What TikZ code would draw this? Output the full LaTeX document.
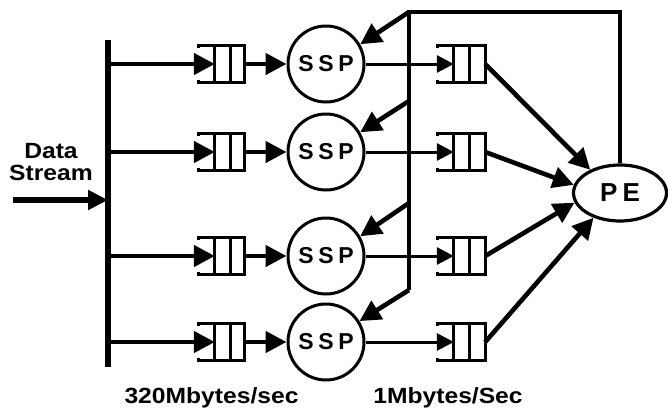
\documentclass[tikz,border=0pt]{standalone}
\usepackage{fontspec}
\setmainfont{Liberation Sans}
\newfontfamily\labfont{Liberation Sans}[FakeStretch=1.12]
\newfontfamily\cfont{Liberation Sans}[LetterSpace=20]
\usetikzlibrary{arrows.meta,shapes.geometric,calc}
\begin{document}
\begin{tikzpicture}[x=1pt,y=-1pt,
  big/.style={line width=4.6pt,-{Triangle[length=21pt,width=21pt]}},
  thinarr/.style={line width=3pt,-{Triangle[length=17pt,width=17pt]}},
  fbline/.style={line width=3.2pt},
  busline/.style={line width=5.5pt},
  queue/.style={minimum width=45pt,minimum height=37pt,inner sep=0pt},
  qline/.style={line width=2.8pt},
  proc/.style={circle,draw,line width=3pt,minimum size=76pt,inner sep=0pt,
    font=\cfont\bfseries\fontsize{23}{24}\selectfont},
  pe/.style={ellipse,draw,line width=3.2pt,minimum width=93pt,minimum height=56pt,inner sep=0pt,
    font=\cfont\bfseries\fontsize{26}{28}\selectfont},
  lab/.style={font=\labfont\bfseries\fontsize{22}{22}\selectfont,inner sep=0pt}
]
\useasboundingbox (0,0) rectangle (668,410);

% bus
\coordinate (bt) at (108,40);
\coordinate (bb) at (108,367);
\draw[busline] (bt) -- (bb);

% data stream input
\node[lab,align=center,anchor=base] (ds) at (51,180) {Data\\Stream};
\coordinate (din) at (13,200);
\coordinate (bin) at (108,200);
\draw[line width=5.5pt,-{Triangle[length=20pt,width=19pt]}] (din) -- (bin);

% rows
\foreach \i/\y in {1/64,2/152,3/256,4/342}{
  \coordinate (b\i) at (108,\y);
  \node[queue] (ql\i) at (221.5,\y) {};
  \node[proc] (s\i) at (326,\y) {SSP};
  \node[queue,minimum width=47pt] (qr\i) at (461.5,\y) {};
}

\node[pe] (pe) at (620,193) {PE};

% queue outlines
\foreach \q in {ql1,ql2,ql3,ql4,qr1,qr2,qr3,qr4}{
  \draw[qline] ($(\q.north west)+(0,3)$) -- (\q.north west) -- (\q.north east)
     -- (\q.south east) -- (\q.south west) -- ++(0,-3);
  \draw[qline] ($(\q.north west)+(16,0)$) -- ($(\q.south west)+(16,0)$);
  \draw[qline] ($(\q.north west)+(32,0)$) -- ($(\q.south west)+(32,0)$);
}

% bus to queues, queues to SSPs, SSPs to output queues
\foreach \i in {1,2,3,4}{
  \draw[big] (b\i) -- ($(ql\i.west)+(16,0)$);
  \draw[big] (ql\i.east) -- (s\i.west);
  \draw[thinarr] (s\i.east) -- ($(qr\i.west)+(16,0)$);
}

% output queues to PE
\draw[big] (qr1.east) -- (pe.142);
\draw[big] (qr2.east) -- (pe.170);
\draw[big] (qr3.east) -- (pe.192);
\draw[big] (qr4.east) -- (pe.223);

% feedback
\coordinate (f1) at (409,12);
\coordinate (f2) at (409,101);
\coordinate (f3) at (409,203);
\coordinate (f4) at (409,290);
\coordinate (ftr) at (pe.north |- f1);
\draw[fbline] (f4) -- (f1) -- (ftr) -- (pe.north);
\draw[big] (f1) -- (s1.30);
\draw[big] (f2) -- (s2.30);
\draw[big] (f3) -- (s3.30);
\draw[big] (f4) -- (s4.32);

% rate labels
\node[lab,anchor=base] (r1) at (211.5,403) {320Mbytes/sec};
\node[lab,anchor=base] (r2) at (448,403) {1Mbytes/Sec};
\end{tikzpicture}
\end{document}
